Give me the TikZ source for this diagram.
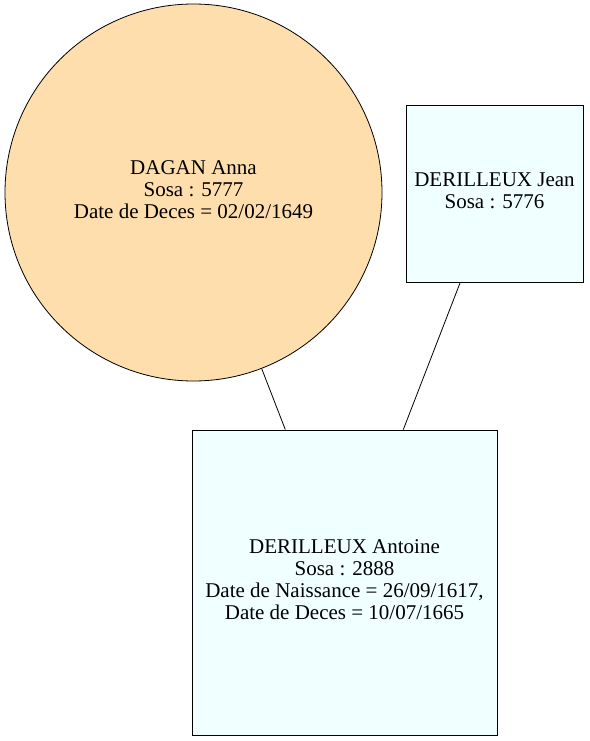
\documentclass[tikz,border=0pt]{standalone}
\usepackage{fontspec}
\setmainfont{Liberation Serif}
\begin{document}
\begin{tikzpicture}[x=1pt,y=-1pt,
  person/.style={draw=black, line width=0.8pt, inner sep=0pt, align=center,
    font=\fontsize{21}{22}\selectfont},
  boxnode/.style={person, rectangle, fill=azurefill},
  circnode/.style={person, circle, fill=navfill},
  lbl/.style={align=center, inner sep=0pt, font=\fontsize{21}{22}\selectfont},
  edge/.style={draw=black, line width=0.8pt}]
\definecolor{azurefill}{HTML}{F0FFFF}
\definecolor{navfill}{HTML}{FFDEAD}
\useasboundingbox (0,0) rectangle (589,741);
\node[circnode, minimum size=377pt] (anna) at (193.5,192.5) {};
\node[lbl] (annat) at (193.5,190)
  {DAGAN Anna\\Sosa : 5777\\Date de Deces = 02/02/1649};
\node[boxnode, minimum width=177pt, minimum height=177pt] (jean) at (494.5,193.5) {};
\node[lbl] (jeant) at (494.5,191)
  {DERILLEUX Jean\\Sosa : 5776};
\node[boxnode, minimum width=305pt, minimum height=305pt] (antoine) at (344.5,582.5) {};
\node[lbl] (antoinet) at (344.5,579.5)
  {DERILLEUX Antoine\\Sosa : 2888\\Date de Naissance = 26/09/1617,\\Date de Deces = 10/07/1665};
\draw[edge] (anna) -- (antoine);
\draw[edge] (jean) -- (antoine);
\end{tikzpicture}
\end{document}
